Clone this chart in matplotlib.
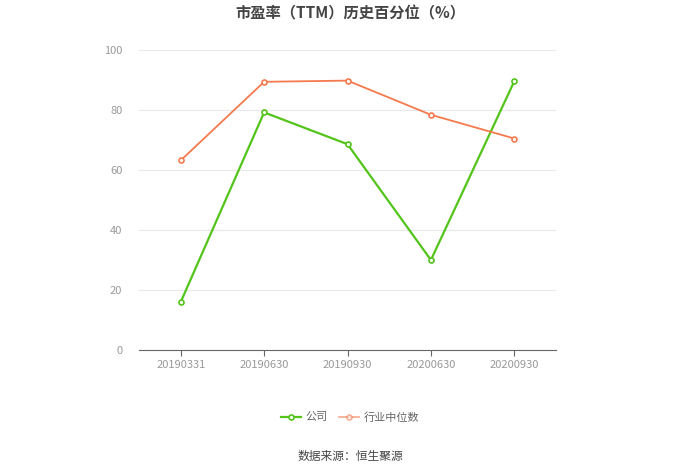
import matplotlib
matplotlib.use("Agg")
import matplotlib.pyplot as plt

plt.rcParams['font.family'] = ['Noto Sans CJK SC', 'DejaVu Sans']

dates = ["20190331", "20190630", "20190930", "20200630", "20200930"]
company = [16.0, 79.2, 68.6, 30.0, 89.6]
industry = [63.2, 89.4, 89.8, 78.4, 70.5]

green = "#52c41a"
orange = "#f47a4e"

fig = plt.figure(figsize=(7, 4.74), dpi=100)
ax = fig.add_axes([0.1986, 0.2616, 0.5957, 0.6329])

x = list(range(len(dates)))
ax.plot(x, company, color=green, lw=1.6, marker="o", ms=3.6, mfc="white",
        mec=green, mew=1.2, label="公司", zorder=3)
ax.plot(x, industry, color=orange, lw=1.3, marker="o", ms=3.6, mfc="white",
        mec=orange, mew=1.2, label="行业中位数", zorder=3)

ax.set_xlim(-0.5, len(dates) - 0.5)
ax.set_ylim(0, 100)
ax.set_yticks(range(0, 101, 20))
ax.set_xticks(x)
ax.set_xticklabels(dates)
ax.grid(axis="y", color="#e8e8e8", lw=0.8)
ax.set_axisbelow(True)
for s in ["top", "right", "left"]:
    ax.spines[s].set_visible(False)
ax.spines["bottom"].set_color("#666666")
ax.tick_params(axis="y", length=0, labelsize=8, labelcolor="#999999", pad=12)
ax.tick_params(axis="x", length=4, color="#666666", labelsize=8,
               labelcolor="#999999", pad=3)

fig.text(0.5, 0.972, "市盈率（TTM）历史百分位（%）", ha="center", va="center",
         fontsize=11, fontweight="bold", color="#444444")

leg = fig.legend(loc="center", bbox_to_anchor=(0.5, 0.12), ncol=2, frameon=False,
                 fontsize=8, handlelength=1.8, columnspacing=1.0, handletextpad=0.4)
for t in leg.get_texts():
    t.set_color("#666666")
leg.get_lines()[1].set_alpha(0.6)

fig.text(0.5, 0.036, "数据来源：恒生聚源", ha="center", va="center",
         fontsize=8.5, color="#444444")

fig.savefig("out.png", dpi=100)
